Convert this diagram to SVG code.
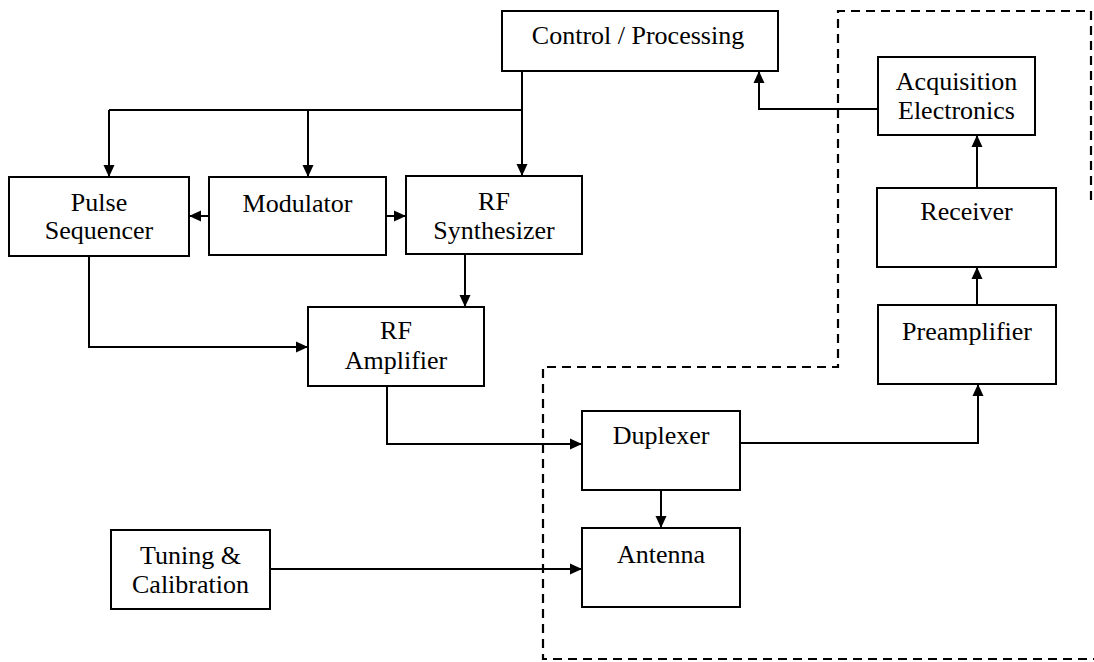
<svg xmlns="http://www.w3.org/2000/svg" width="1094" height="662" viewBox="0 0 1094 662">
<defs>
<marker id="ah" markerUnits="userSpaceOnUse" markerWidth="13" markerHeight="12" refX="12" refY="6" orient="auto">
<path d="M0,0.5 L12,6 L0,11.5 z" fill="#000"/>
</marker>
<style>
.box{fill:#fff;stroke:#000;stroke-width:2}
.lbl{font-family:"Liberation Serif","Times New Roman",serif;font-size:26px;fill:#000;text-anchor:middle}
.con{fill:none;stroke:#000;stroke-width:2}
.arr{marker-end:url(#ah)}
.dash{fill:none;stroke:#000;stroke-width:2.2;stroke-dasharray:9 6}
</style>
</defs>
<rect width="1094" height="662" fill="#fff"/>
<g id="boundary">
<path class="dash" d="M1091,200 V11 H838 V367 H543 V659 H1094"/>
</g>
<g id="connectors">
<path class="con arr" d="M522,71 V176"/>
<path class="con" d="M109,110 H522"/>
<path class="con arr" d="M109,110 V177"/>
<path class="con arr" d="M308,110 V177"/>
<path class="con arr" d="M209,216 H189"/>
<path class="con arr" d="M386,216 H406"/>
<path class="con arr" d="M89,256 V347 H308"/>
<path class="con arr" d="M465,254 V307"/>
<path class="con arr" d="M387,386 V444 H582"/>
<path class="con arr" d="M740,443 H978 V384"/>
<path class="con arr" d="M661,490 V528"/>
<path class="con arr" d="M270,569 H582"/>
<path class="con arr" d="M977,305 V267"/>
<path class="con arr" d="M977,188 V135"/>
<path class="con arr" d="M878,109 H759 V71"/>
</g>
<g id="control">
<rect class="box" x="502" y="11" width="276" height="60"/>
<text class="lbl" x="638" y="44">Control / Processing</text>
</g>
<g id="pulse-sequencer">
<rect class="box" x="9" y="177" width="180" height="79"/>
<text class="lbl" x="99" y="211">Pulse</text>
<text class="lbl" x="99" y="239">Sequencer</text>
</g>
<g id="modulator">
<rect class="box" x="209" y="177" width="177" height="78"/>
<text class="lbl" x="297.5" y="212">Modulator</text>
</g>
<g id="rf-synthesizer">
<rect class="box" x="406" y="176" width="176" height="78"/>
<text class="lbl" x="494" y="210">RF</text>
<text class="lbl" x="494" y="239">Synthesizer</text>
</g>
<g id="rf-amplifier">
<rect class="box" x="308" y="307" width="176" height="79"/>
<text class="lbl" x="396" y="339">RF</text>
<text class="lbl" x="396" y="369">Amplifier</text>
</g>
<g id="tuning">
<rect class="box" x="111" y="530" width="159" height="79"/>
<text class="lbl" x="190.5" y="564">Tuning &amp;</text>
<text class="lbl" x="190.5" y="593">Calibration</text>
</g>
<g id="acquisition">
<rect class="box" x="878" y="57" width="157" height="78"/>
<text class="lbl" x="956.5" y="90">Acquisition</text>
<text class="lbl" x="956.5" y="119">Electronics</text>
</g>
<g id="receiver">
<rect class="box" x="877" y="188" width="179" height="79"/>
<text class="lbl" x="966.5" y="220">Receiver</text>
</g>
<g id="preamplifier">
<rect class="box" x="878" y="305" width="178" height="79"/>
<text class="lbl" x="967" y="340">Preamplifier</text>
</g>
<g id="duplexer">
<rect class="box" x="582" y="411" width="158" height="79"/>
<text class="lbl" x="661" y="444">Duplexer</text>
</g>
<g id="antenna">
<rect class="box" x="582" y="528" width="158" height="79"/>
<text class="lbl" x="661" y="563">Antenna</text>
</g>
</svg>
